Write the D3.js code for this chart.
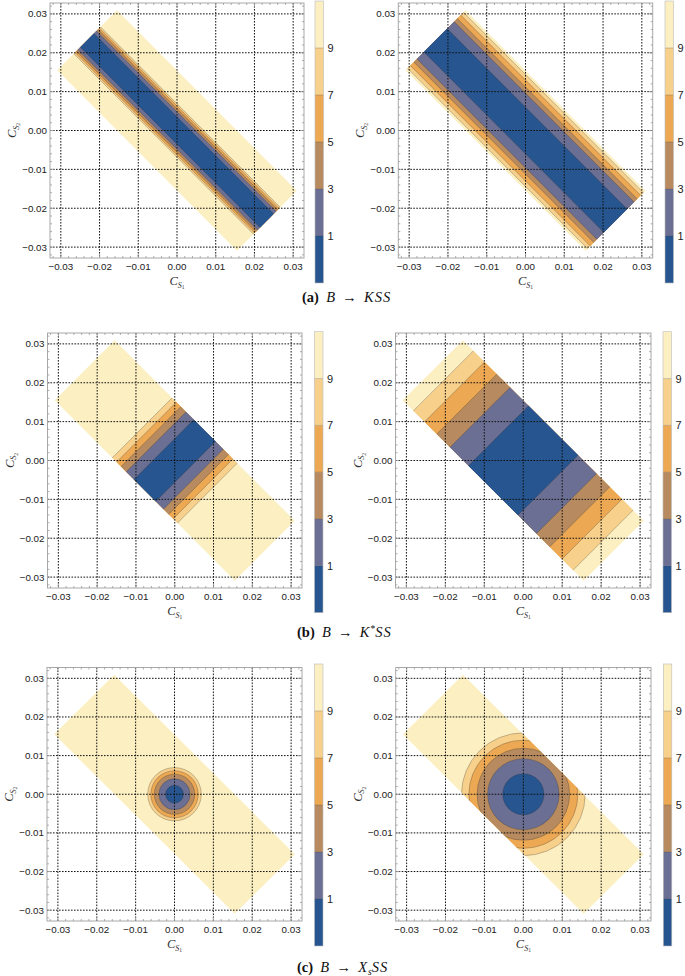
<!DOCTYPE html>
<html><head><meta charset="utf-8">
<script src="https://cdn.jsdelivr.net/npm/d3@7"></script>
<style>body{margin:0;background:#fff}</style>
</head><body><svg id="chart" width="685" height="976"></svg>
<script>
// ---------------- data ----------------
const tickValues = [-0.03, -0.02, -0.01, 0, 0.01, 0.02, 0.03];
const contourLevels = [1, 3, 5, 7, 9];
const legendRange = [-1, 11];
const regionHalfWidth = 0.0155;   // limit on |C_S1 + C_S2|
const regionHalfLength = 0.0465;  // limit on |C_S1 - C_S2|
// positions of the chi^2 = 1,3,5,7,9 contours
const kssLeft   = [0.0035, 0.0048, 0.0056, 0.0063, 0.0069];  // in C_S1 + C_S2
const kssRight  = [0.0060, 0.0096, 0.0112, 0.0130, 0.0144];  // in C_S1 + C_S2
const kstarLeft = [0.0056, 0.0096, 0.0123, 0.0146, 0.0168];  // in C_S1 - C_S2
const kstarRight= [0.0127, 0.0222, 0.0290, 0.0353, 0.0410];  // in C_S1 - C_S2
const xsLeft    = [0.0023, 0.0040, 0.0052, 0.0061, 0.0069];  // radius
const xsRight   = [0.0053, 0.0092, 0.0119, 0.0140, 0.0159];  // radius
const captionLabels = ["(a)", "(b)", "(c)"];
const captionFinal = ["K", "K", "X"];

// ---------------- styles / layout ----------------
const bandColors = ["#26558f", "#6b6f93", "#b78b5f", "#eca853", "#f7d08c", "#fcf0c3"];
const frameDomain = [-0.0328, 0.0328];
const rows = [
  {fy: [3, 258],     cols: [{fx: [50, 304], cb: 315, data: kssLeft, kind: "across"},
                             {fx: [398.3, 652.7], cb: 665, data: kssRight, kind: "across"}],
   cbY: [1, 283], capY: 302, capX: 302},
  {fy: [333, 588],   cols: [{fx: [47.5, 302], cb: 314.5, data: kstarLeft, kind: "along"},
                             {fx: [395.5, 651], cb: 663, data: kstarRight, kind: "along"}],
   cbY: [331.7, 612.7], capY: 637, capX: 297},
  {fy: [667.5, 921], cols: [{fx: [47, 302], cb: 314.5, data: xsLeft, kind: "radial"},
                             {fx: [395.7, 651], cb: 663.3, data: xsRight, kind: "radial"}],
   cbY: [664, 946], capY: 972, capX: 297}
];

const svg = d3.select("#chart");
const fmt = d3.format(".2f");
const W = regionHalfWidth, L = regionHalfLength;
const uv = (u, v) => [(u + v) / 2, (u - v) / 2];
let clipId = 0;

function drawPanel(col, fy) {
  const x = d3.scaleLinear(frameDomain, col.fx);
  const y = d3.scaleLinear(frameDomain, [fy[1], fy[0]]);
  const line = d3.line().x(d => x(d[0])).y(d => y(d[1]));
  const g = svg.append("g");
  const id = "clip" + (clipId++);
  const region = [uv(W, L), uv(W, -L), uv(-W, -L), uv(-W, L)];
  g.append("clipPath").attr("id", id).append("path").attr("d", line(region) + "Z");

  const body = g.append("g").attr("clip-path", `url(#${id})`);
  body.append("path").attr("d", line(region) + "Z").attr("fill", bandColors[5]);

  const levels = col.data;
  for (let i = levels.length - 1; i >= 0; i--) {
    const c = levels[i];
    if (col.kind === "radial") {
      body.append("ellipse")
        .attr("cx", x(0)).attr("cy", y(0))
        .attr("rx", x(c) - x(0)).attr("ry", y(0) - y(c))
        .attr("fill", bandColors[i])
        .attr("stroke", "rgba(40,40,40,0.45)").attr("stroke-width", 0.6);
    } else {
      const cc = Math.min(c, col.kind === "across" ? W : L);
      const poly = col.kind === "across"
        ? [uv(-cc, -L), uv(cc, -L), uv(cc, L), uv(-cc, L)]
        : [uv(-W, -cc), uv(-W, cc), uv(W, cc), uv(W, -cc)];
      body.append("path").attr("d", line(poly) + "Z").attr("fill", bandColors[i]);
    }
  }
  if (col.kind !== "radial") {
    levels.forEach(c => {
      [-c, c].forEach(s => {
        const seg = col.kind === "across" ? [uv(s, -L), uv(s, L)] : [uv(-W, s), uv(W, s)];
        body.append("path").attr("d", line(seg))
          .attr("stroke", "rgba(40,40,40,0.45)").attr("stroke-width", 0.6).attr("fill", "none");
      });
    });
  }

  // grid lines (drawn on top)
  const grid = g.append("g").attr("stroke", "#111").attr("stroke-width", 1)
    .attr("stroke-dasharray", "1.6,1.4");
  tickValues.forEach(t => {
    grid.append("line").attr("x1", x(t)).attr("x2", x(t)).attr("y1", fy[0]).attr("y2", fy[1]);
    grid.append("line").attr("y1", y(t)).attr("y2", y(t)).attr("x1", col.fx[0]).attr("x2", col.fx[1]);
  });

  // frame + ticks
  g.append("rect").attr("x", col.fx[0]).attr("y", fy[0])
    .attr("width", col.fx[1] - col.fx[0]).attr("height", fy[1] - fy[0])
    .attr("fill", "none").attr("stroke", "#a8a8a8").attr("stroke-width", 1);
  const minor = d3.range(-32, 33, 2).map(k => k / 1000);
  const tg = g.append("g").attr("stroke", "#999").attr("stroke-width", 0.8);
  minor.forEach(t => {
    const isMajor = Math.abs(Math.round(t * 100) - t * 100) < 1e-6;
    const len = isMajor ? 4 : 2;
    const px = x(t), py = y(t);
    tg.append("line").attr("x1", px).attr("x2", px).attr("y1", fy[1]).attr("y2", fy[1] - len);
    tg.append("line").attr("x1", px).attr("x2", px).attr("y1", fy[0]).attr("y2", fy[0] + len);
    tg.append("line").attr("y1", py).attr("y2", py).attr("x1", col.fx[0]).attr("x2", col.fx[0] + len);
    tg.append("line").attr("y1", py).attr("y2", py).attr("x1", col.fx[1]).attr("x2", col.fx[1] - len);
  });

  // tick labels
  const lab = g.append("g").attr("font-family", "Liberation Sans, Arial, sans-serif")
    .attr("font-size", 9.8).attr("fill", "#222");
  tickValues.forEach(t => {
    lab.append("text").attr("x", x(t)).attr("y", fy[1] + 12).attr("text-anchor", "middle").text(fmt(t));
    lab.append("text").attr("x", col.fx[0] - 3).attr("y", y(t) + 3.5).attr("text-anchor", "end").text(fmt(t));
  });

  // axis titles
  const addTitle = (sel, n) => {
    sel.append("tspan").attr("font-style", "italic").text("C");
    sel.append("tspan").attr("font-style", "italic").attr("font-size", 8).attr("dy", 2.5).text("S");
    sel.append("tspan").attr("font-size", 5.5).attr("dy", 1.5).text(n);
  };
  const xt = g.append("text").attr("x", (col.fx[0] + col.fx[1]) / 2).attr("y", fy[1] + 27)
    .attr("text-anchor", "middle").attr("font-family", "Liberation Serif, serif")
    .attr("font-size", 12.5).attr("fill", "#333");
  addTitle(xt, "1");
  const cyMid = (fy[0] + fy[1]) / 2, cxT = col.fx[0] - 34;
  const yt = g.append("text").attr("transform", `translate(${cxT},${cyMid}) rotate(-90)`)
    .attr("text-anchor", "middle").attr("font-family", "Liberation Serif, serif")
    .attr("font-size", 12.5).attr("fill", "#333");
  addTitle(yt, "2");
}

function drawColorbar(xLeft, cbY) {
  const w = 8.5;
  const cy = d3.scaleLinear(legendRange, [cbY[1], cbY[0]]);
  const edges = [legendRange[0], ...contourLevels, legendRange[1]];
  const g = svg.append("g");
  for (let k = 0; k < edges.length - 1; k++) {
    g.append("rect").attr("x", xLeft).attr("y", cy(edges[k + 1]))
      .attr("width", w).attr("height", cy(edges[k]) - cy(edges[k + 1]))
      .attr("fill", bandColors[k]);
  }
  contourLevels.forEach(v => {
    g.append("line").attr("x1", xLeft).attr("x2", xLeft + w).attr("y1", cy(v)).attr("y2", cy(v))
      .attr("stroke", "rgba(60,60,60,0.35)").attr("stroke-width", 0.7);
    g.append("text").attr("x", xLeft + w + 4).attr("y", cy(v) + 4)
      .attr("font-family", "Liberation Sans, Arial, sans-serif").attr("font-size", 11)
      .attr("fill", "#222").text(v);
  });
  g.append("rect").attr("x", xLeft).attr("y", cbY[0]).attr("width", w)
    .attr("height", cbY[1] - cbY[0]).attr("fill", "none").attr("stroke", "#bbb").attr("stroke-width", 0.6);
}

rows.forEach((row, ri) => {
  row.cols.forEach(col => { drawPanel(col, row.fy); drawColorbar(col.cb, row.cbY); });
  const t = svg.append("text").attr("x", row.capX).attr("y", row.capY)
    .attr("font-family", "Liberation Serif, serif").attr("font-size", 14.5).attr("fill", "#111");
  t.append("tspan").attr("font-weight", "bold").text(captionLabels[ri]);
  t.append("tspan").text("\u2002");
  t.append("tspan").attr("font-style", "italic").text("B");
  t.append("tspan").text("\u2002\u2192\u2002");
  t.append("tspan").attr("font-style", "italic").attr("letter-spacing", 1).text(captionFinal[ri]);
  if (ri === 1) {
    t.append("tspan").attr("font-size", 9.5).attr("dy", -5.5).text("*");
    t.append("tspan").attr("font-style", "italic").attr("letter-spacing", 1).attr("dy", 5.5).text("SS");
  } else if (ri === 2) {
    t.append("tspan").attr("font-style", "italic").attr("font-size", 9.5).attr("dy", 3).text("s");
    t.append("tspan").attr("font-style", "italic").attr("letter-spacing", 1).attr("dy", -3).text("SS");
  } else {
    t.append("tspan").attr("font-style", "italic").attr("letter-spacing", 1).text("SS");
  }
});
</script>
</body></html>
